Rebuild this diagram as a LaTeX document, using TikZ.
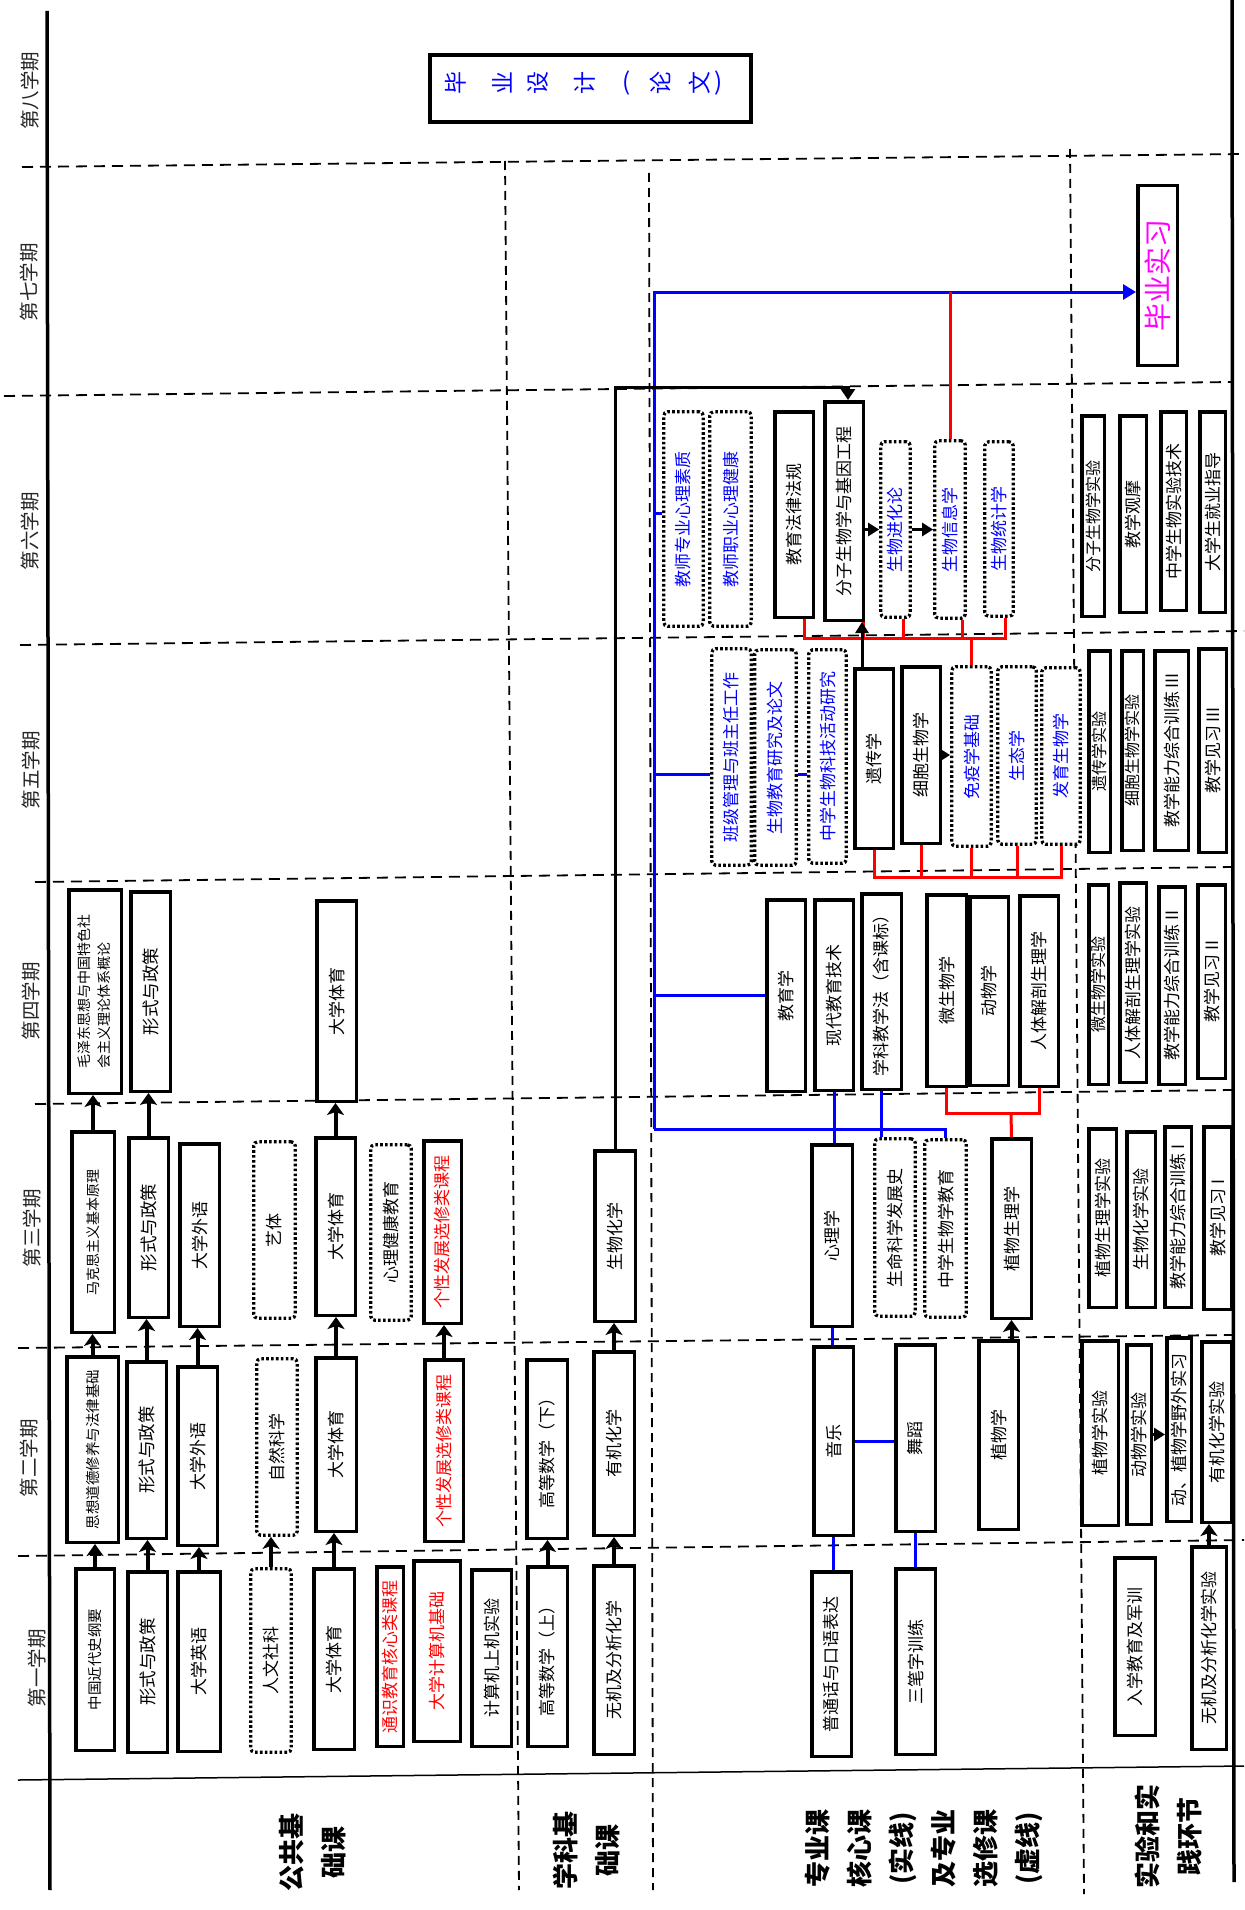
\documentclass[tikz,border=0pt]{standalone}
\usepackage{fontspec}
\usepackage{graphicx}
\setmainfont{Noto Sans CJK SC}
\usetikzlibrary{arrows.meta,calc}
\definecolor{mblue}{RGB}{0,0,255}
\definecolor{mred}{RGB}{255,0,0}
\definecolor{mmag}{RGB}{255,0,255}
\newcommand\myfs[1]{\fontsize{#1}{#1}\selectfont}
\newcommand\myfl[2]{\fontsize{#1}{#2}\selectfont}
\newcommand\cbx[7]{%
  \node[#6, minimum width={(#4-#2-3.5)*1pt}, minimum height={(#5-#3-3.5)*1pt}]
    (#1) at ({(#2+#4)/2},{(#3+#5)/2}) {\rotatebox{90}{#7}};}
\begin{document}
\begin{tikzpicture}[x=1pt,y=-1pt,
  sb/.style={draw,line width=3.5pt,rectangle,inner sep=0pt,fill=white,font=\myfs{17}},
  db/.style={draw,line width=3.3pt,dash pattern=on 2.6pt off 2.3pt,rounded corners=4pt,rectangle,inner sep=0pt,fill=white,font=\myfs{17}},
  bt/.style={text=mblue}, rt/.style={text=mred},
  sep/.style={line width=1.8pt,dash pattern=on 11pt off 7pt},
  vsep/.style={line width=1.8pt,dash pattern=on 9pt off 6pt},
  arr/.style={line width=4pt,-{Stealth[length=12pt,width=17pt,inset=3pt]}},
  arrb/.style={line width=3pt,-{Triangle[length=11pt,width=13pt]}},
  bln/.style={draw=mblue,line width=3pt},
  rln/.style={draw=mred,line width=3pt},
  lab/.style={font=\myfs{19.5},text=black!85,inner sep=0pt},
  cat/.style={font=\myfl{26}{42}\bfseries,inner sep=0pt}]
\useasboundingbox (0,0) rectangle (1244,1910);
\fill[white] (0,0) rectangle (1244,1910);

% ---------- frame ----------
\draw[sep] (22,167) -- (1244,154);
\draw[sep] (4,396) -- (1232,382);
\draw[sep] (20,645) -- (1244,631);
\draw[sep] (35,882) -- (1232,867);
\draw[sep] (35,1104) -- (1232,1090);
\draw[sep] (18,1348) -- (1232,1335);
\draw[sep] (18,1556) -- (1244,1540);
\draw[line width=1.5pt] (18,1780) -- (1244,1766);
\draw[vsep] (505,161) -- (519,1890);
\draw[vsep] (649,173) -- (653,1890);
\draw[vsep] (1070,149) -- (1084,1894);
\draw[line width=3.5pt] (47,11) -- (50,1890);
\draw[line width=3.5pt] (1232,0) -- (1234,1882);

% ---------- semester labels ----------
\node[lab] (s8) at (30,91) {\rotatebox{90}{第八学期}};
\node[lab] (s7) at (29,282) {\rotatebox{90}{第七学期}};
\node[lab] (s6) at (30,531) {\rotatebox{90}{第六学期}};
\node[lab] (s5) at (31,770) {\rotatebox{90}{第五学期}};
\node[lab] (s4) at (31,1001) {\rotatebox{90}{第四学期}};
\node[lab] (s3) at (32,1228) {\rotatebox{90}{第三学期}};
\node[lab] (s2) at (29,1458) {\rotatebox{90}{第二学期}};
\node[lab] (s1) at (37,1668) {\rotatebox{90}{第一学期}};

% ---------- category labels ----------
\node[cat] (catA) at (314,1852) {\rotatebox{90}{\begin{tabular}{@{}c@{}}公共基\\础课\end{tabular}}};
\node[cat] (catB) at (588,1850) {\rotatebox{90}{\begin{tabular}{@{}c@{}}学科基\\础课\end{tabular}}};
\node[cat] (catC) at (924,1848) {\rotatebox{90}{\begin{tabular}{@{}c@{}}专业课\\核心课\\(实线)\\及专业\\选修课\\(虚线)\end{tabular}}};
\node[cat] (catD) at (1170,1836) {\rotatebox{90}{\begin{tabular}{@{}c@{}}实验和实\\践环节\end{tabular}}};

% ---------- 公共基础课 ----------
\cbx{gA1}{74}{1567}{116}{1752}{sb,font=\myfs{14.5}}{中国近代史纲要}
\cbx{gB1}{126}{1570}{169}{1754}{sb,font=\myfs{17.5}}{形式与政策}
\cbx{gC1}{176}{1570}{222}{1753}{sb}{大学英语}
\cbx{gD1}{249}{1567}{293}{1754}{db}{人文社科}
\cbx{gE1}{312}{1567}{356}{1751}{sb}{大学体育}
\cbx{gF1}{375}{1565}{405}{1748}{sb,rt}{通识教育核心类课程}
\cbx{gG1}{412}{1559}{462}{1743}{sb,rt}{大学计算机基础}
\cbx{gH1}{470}{1568}{513}{1748}{sb}{计算机上机实验}

\cbx{gA2}{65}{1355}{120}{1544}{sb,font=\myfs{14.5}}{思想道德修养与法律基础}
\cbx{gB2}{125}{1360}{168}{1540}{sb,font=\myfs{17.5}}{形式与政策}
\cbx{gC2}{176}{1365}{219}{1547}{sb}{大学外语}
\cbx{gD2}{255}{1357}{299}{1537}{db}{自然科学}
\cbx{gE2}{314}{1356}{358}{1533}{sb}{大学体育}
\cbx{gG2}{423}{1358}{465}{1543}{sb,rt}{个性发展选修类课程}

\cbx{gA3}{70}{1130}{116}{1334}{sb,font=\myfs{14}}{马克思主义基本原理}
\cbx{gB3}{127}{1136}{170}{1319}{sb,font=\myfs{17.5}}{形式与政策}
\cbx{gC3}{178}{1142}{221}{1328}{sb}{大学外语}
\cbx{gD3}{252}{1140}{297}{1320}{db}{艺体}
\cbx{gE3}{314}{1136}{357}{1317}{sb}{大学体育}
\cbx{gF3}{369}{1143}{413}{1322}{db}{心理健康教育}
\cbx{gG3}{422}{1139}{463}{1325}{sb,rt}{个性发展选修类课程}

\cbx{gA4}{67}{888}{123}{1095}{sb,font=\myfl{14}{20}}{\begin{tabular}{@{}l@{}}毛泽东思想与中国特色社\\会主义理论体系概论\end{tabular}}
\cbx{gB4}{129}{890}{172}{1093}{sb,font=\myfs{17.5}}{形式与政策}
\cbx{gE4}{315}{899}{358}{1103}{sb}{大学体育}

% ---------- 学科基础课 ----------
\cbx{xA1}{526}{1565}{569}{1748}{sb}{高等数学（上）}
\cbx{xB1}{592}{1564}{636}{1756}{sb}{无机及分析化学}
\cbx{xA2}{525}{1358}{569}{1540}{sb}{高等数学（下）}
\cbx{xB2}{592}{1350}{636}{1537}{sb}{有机化学}
\cbx{xB3}{593}{1149}{637}{1323}{sb}{生物化学}

% ---------- 专业课 ----------
\cbx{zA1}{810}{1570}{853}{1758}{sb}{普通话与口语表达}
\cbx{zB1}{894}{1567}{937}{1756}{sb}{三笔字训练}
\cbx{zA2}{812}{1345}{855}{1537}{sb}{音乐}
\cbx{zB2}{894}{1343}{937}{1533}{sb}{舞蹈}
\cbx{zC2}{977}{1339}{1020}{1531}{sb}{植物学}
\cbx{zA3}{810}{1143}{854}{1328}{sb}{心理学}
\cbx{zB3}{873}{1137}{917}{1318}{db}{生命科学发展史}
\cbx{zC3}{923}{1138}{968}{1319}{db}{中学生物学教育}
\cbx{zD3}{990}{1137}{1033}{1320}{sb}{植物生理学}
\cbx{zA4}{765}{898}{807}{1093}{sb}{教育学}
\cbx{zB4}{813}{898}{855}{1092}{sb}{现代教育技术}
\cbx{zC4}{860}{892}{903}{1091}{sb}{学科教学法（含课标）}
\cbx{zD4}{925}{893}{968}{1088}{sb}{微生物学}
\cbx{zE4}{968}{895}{1010}{1087}{sb}{动物学}
\cbx{zF4}{1018}{894}{1060}{1088}{sb}{人体解剖生理学}
\cbx{zA5}{710}{647}{753}{867}{db,bt}{班级管理与班主任工作}
\cbx{zB5}{753}{648}{798}{867}{db,bt}{生物教育研究及论文}
\cbx{zC5}{807}{648}{848}{865}{db,bt}{中学生物科技活动研究}
\cbx{zD5}{853}{667}{895}{850}{sb}{遗传学}
\cbx{zE5}{900}{665}{942}{845}{sb}{细胞生物学}
\cbx{zF5}{950}{665}{993}{848}{db,bt}{免疫学基础}
\cbx{zG5}{996}{665}{1038}{846}{db,bt}{生态学}
\cbx{zH5}{1040}{666}{1082}{846}{db,bt}{发育生物学}
\cbx{zA6}{662}{410}{705}{628}{db,bt}{教师专业心理素质}
\cbx{zB6}{708}{410}{753}{628}{db,bt}{教师职业心理健康}
\cbx{zC6}{773}{410}{815}{619}{sb}{教育法律法规}
\cbx{zD6}{823}{400}{865}{622}{sb,font=\myfs{17}}{分子生物学与基因工程}
\cbx{zE6}{879}{440}{912}{619}{db,bt}{生物进化论}
\cbx{zF6}{933}{439}{967}{620}{db,bt}{生物信息学}
\cbx{zG6}{983}{440}{1015}{618}{db,bt}{生物统计学}
\cbx{zA7}{1136}{184}{1179}{367}{sb,text=mmag,font=\myfs{28}}{毕业实习}

% 毕业设计（论文）
\node[draw,line width=4pt,minimum width=321pt,minimum height=67pt,inner sep=0pt] (bysj) at (590.5,88.5) {};
\foreach \c/\x [count=\i] in {毕/456,业/502,设/538,计/585,论/660,文/700}
  \node[text=mblue,font=\myfs{23},inner sep=0pt] (bc\i) at (\x,83) {\rotatebox{90}{\c}};
\node[text=mblue,font=\myfs{24},inner sep=0pt] (bp1) at (627,83) {(};
\node[text=mblue,font=\myfs{24},inner sep=0pt] (bp2) at (719,83) {)};

% ---------- 实验和实践环节 ----------
\cbx{eA1}{1113}{1556}{1157}{1737}{sb}{入学教育及军训}
\cbx{eB1}{1190}{1545}{1228}{1751}{sb}{无机及分析化学实验}
\cbx{eA2}{1080}{1339}{1120}{1527}{sb}{植物学实验}
\cbx{eB2}{1125}{1343}{1153}{1526}{sb}{动物学实验}
\cbx{eC2}{1165}{1336}{1193}{1523}{sb}{动、植物学野外实习}
\cbx{eD2}{1200}{1340}{1233}{1524}{sb}{有机化学实验}
\cbx{eA3}{1087}{1127}{1118}{1309}{sb}{植物生理学实验}
\cbx{eB3}{1125}{1130}{1157}{1309}{sb}{生物化学实验}
\cbx{eC3}{1163}{1125}{1193}{1309}{sb}{教学能力综合训练 I}
\cbx{eD3}{1202}{1125}{1233}{1311}{sb}{教学见习 I}
\cbx{eA4}{1087}{883}{1110}{1086}{sb,font=\myfs{16}}{微生物学实验}
\cbx{eB4}{1118}{881}{1148}{1084}{sb}{人体解剖生理学实验}
\cbx{eC4}{1157}{885}{1187}{1086}{sb}{教学能力综合训练 II}
\cbx{eD4}{1196}{883}{1227}{1080}{sb}{教学见习 II}
\cbx{eA5}{1087}{649}{1112}{854}{sb,font=\myfs{16}}{遗传学实验}
\cbx{eB5}{1120}{649}{1145}{852}{sb,font=\myfs{16}}{细胞生物学实验}
\cbx{eC5}{1153}{649}{1190}{852}{sb}{教学能力综合训练 III}
\cbx{eD5}{1197}{647}{1228}{854}{sb}{教学见习 III}
\cbx{eA6}{1080}{414}{1106}{618}{sb,font=\myfs{16}}{分子生物学实验}
\cbx{eB6}{1118}{414}{1148}{614}{sb}{教学观摩}
\cbx{eC6}{1159}{410}{1188}{612}{sb}{中学生物实验技术}
\cbx{eD6}{1198}{410}{1227}{614}{sb}{大学生就业指导}

% ---------- black arrows ----------
\foreach \a/\b in {gA1/gA2,gB1/gB2,gC1/gC2,gD1/gD2,gE1/gE2,gA2/gA3,gB2/gB3,gC2/gC3,gE2/gE3,gG2/gG3,gA3/gA4,gB3/gB4,gE3/gE4,xA1/xA2,xB1/xB2,xB2/xB3,eB1/eD2}
  \draw[arr] (\a.north) -- (\a.north |- \b.south);
\draw[arr] (zD3.south |- zC2.north) -- (zD3.south);

% ---------- blue connectors ----------
\coordinate (bT) at (654,292);
\coordinate (bB) at (654,1129);
\coordinate (b6) at (654,513);
\coordinate (b5) at (654,774);
\draw[bln,-{Triangle[length=13pt,width=15pt]}] (bB) -- (bT) -- (bT -| zA7.west);
\draw[bln] (bB) -| (zC3.north);
\draw[bln] (b6) -- (b6 -| zA6.west);
\draw[bln] (b5) -- (b5 -| zA5.west);
\draw[bln] (b5 -| zB5.east) -- (b5 -| zC5.west);
\draw[bln] (bT |- zA4.west) -- (zA4.west);
\draw[bln] (zB4.south) -- (zB4.south |- zA3.north);
\draw[bln] (zC4.south) -- (zC4.south |- zB3.north);
\draw[bln] (zA3.south) -- (zA3.south |- zA2.north);
\draw[bln] (zA2.south) -- (zA2.south |- zA1.north);
\draw[bln] (zB2.south) -- (zB2.south |- zB1.north);
\draw[bln] (zA2.east) -- (zA2.east -| zB2.west);

% ---------- red connectors ----------
\coordinate (r4) at (1011,1113);
\draw[rln] (zD4.south) |- (r4) -| (zF4.south);
\draw[rln] (r4) -- (zD3.north);
\coordinate (r5) at (0,877);
\draw[rln] (zD5.south) -- (zD5.south |- r5) -- (zH5.south |- r5) -- (zH5.south);
\foreach \n in {zE5,zF5,zG5} \draw[rln] (\n.south) -- (\n.south |- r5);
\coordinate (r6a) at (804,638);
\coordinate (r6b) at (863,638);
\coordinate (r6c) at (903,638);
\coordinate (r6d) at (962,638);
\coordinate (r6e) at (1005,638);
\draw[rln] (r6a |- zC6.south) -- (r6a) -- (r6e) -- (r6e |- zG6.south);
\draw[rln] (r6b |- zD6.south) -- (r6b);
\draw[rln] (r6c |- zE6.south) -- (r6c);
\draw[rln] (r6d |- zF6.south) -- (r6d);
\draw[rln] (zF5.north |- r6a) -- (zF5.north);
\draw[rln] (zF6.north) -- (zF6.north |- bT);

% ---------- black arrows in major column ----------
\coordinate (kk) at ($(zD6.north)+(4,-13)$);
\draw[line width=3pt,-{Triangle[length=11pt,width=14pt]}] (xB3.north) |- (kk) -- (kk |- zD6.north);
\coordinate (ya) at ($(zD5.north)+(-12,0)$);
\draw[arrb] (ya) -- (ya |- zD6.south);
\draw[arrb] (zD6.east |- zE6.west) -- (zE6.west);
\draw[arrb] (zE6.east) -- (zF6.west);
\draw[arrb] (zE5.east) -- (zE5.east -| zF5.west);
\draw[arrb] (eB2.east) -- (eB2.east -| eC2.west);
\end{tikzpicture}
\end{document}
